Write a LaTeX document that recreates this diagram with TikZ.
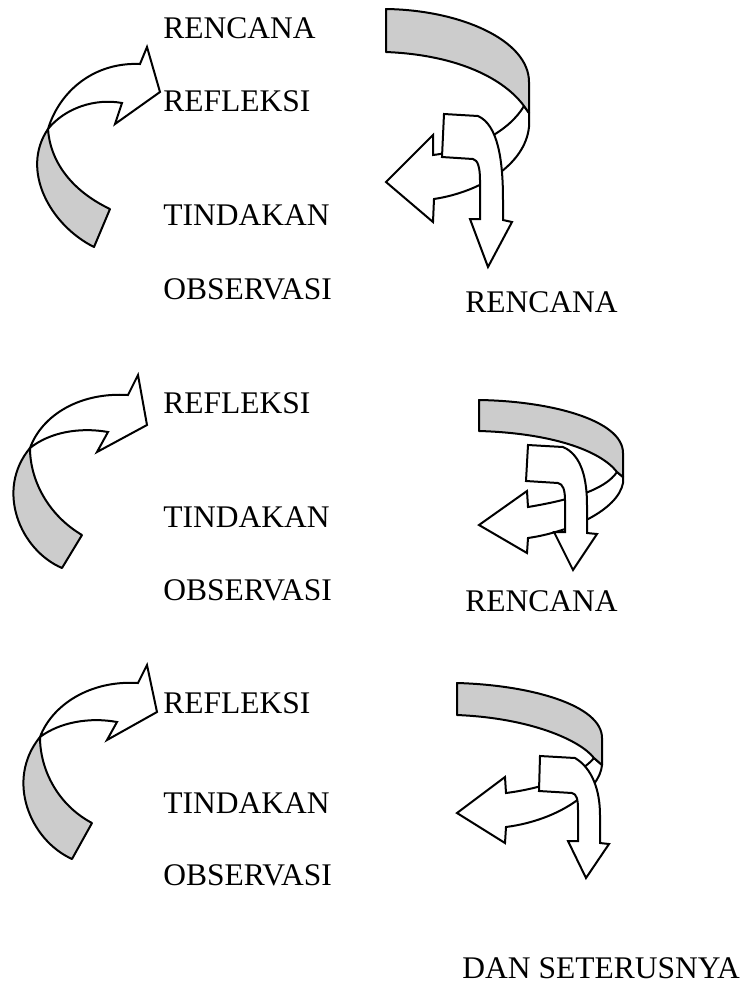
\documentclass[tikz,border=0pt]{standalone}
\usepackage{fontspec}
\setmainfont{Liberation Serif}
\tikzset{
  pita/.style={draw, line width=1pt, fill=gray!40, line join=round},
  panah/.style={draw, line width=1pt, fill=white, line join=miter},
  tahap/.style={anchor=base west, inner sep=0pt, font=\fontsize{15.75}{18}\selectfont}
}

\begin{document}
\begin{tikzpicture}[x=0.5pt, y=-0.5pt]
  \useasboundingbox (0,0) rectangle (752,993);

  \fill[pita] (94,247) .. controls (50,225) and (20,170) .. (48,129)
    .. controls (50,160) and (70,190) .. (110,209) -- cycle;
  \fill[panah] (48,129) .. controls (60,90) and (95,62) .. (140,64) -- (147,47) -- (160,92)
    -- (115,124) -- (122,103) .. controls (95,98) and (65,108) .. (48,129) -- cycle;

  \fill[panah] (524,106) -- (529,113) -- (529,127) .. controls (525,165) and (480,192) .. (434,199)
    -- (433,222) -- (386,182) -- (433,135) -- (433,155) .. controls (475,150) and (510,130) .. (524,106) -- cycle;
  \fill[pita] (386,9) .. controls (460,10) and (529,40) .. (529,82) -- (529,113) -- (524,106)
    .. controls (505,80) and (460,55) .. (386,52) -- cycle;
  \fill[panah] (444,114) -- (478,116) .. controls (498,125) and (503,160) .. (503,200) -- (503,220)
    -- (512,222) -- (488,267) -- (470,219) -- (480,219) -- (480,180)
    .. controls (480,168) and (478,160) .. (473,159) -- (442,157) -- cycle;

  \node[tahap] (ren1) at (163,38) {RENCANA};
  \node[tahap] (ref1) at (163,111) {REFLEKSI};
  \node[tahap] (tin1) at (163,225) {TINDAKAN};
  \node[tahap] (obs1) at (163,299) {OBSERVASI};
  \node[tahap] (ren2) at (465,312) {RENCANA};

  \fill[pita] (62,568) .. controls (20,550) and (-5,490) .. (30,448)
    .. controls (30,480) and (48,515) .. (82,535) -- cycle;
  \fill[panah] (30,448) .. controls (42,415) and (80,392) .. (128,395) -- (138,375) -- (147,425)
    -- (97,452) -- (108,432) .. controls (80,427) and (50,432) .. (30,448) -- cycle;

  \fill[panah] (617,472) -- (623,477) -- (623,483) .. controls (618,510) and (570,532) .. (528,538)
    -- (527,553) -- (479,525) -- (527,491) -- (528,507) .. controls (570,500) and (605,490) .. (617,472) -- cycle;
  \fill[pita] (479,400) .. controls (550,401) and (623,420) .. (623,453) -- (623,477) -- (617,472)
    .. controls (600,450) and (550,433) .. (479,431) -- cycle;
  \fill[panah] (528,445) -- (563,447) .. controls (582,455) and (587,480) .. (587,505) -- (587,533)
    -- (597,534) -- (573,570) -- (554,532) -- (565,532) -- (565,500)
    .. controls (565,490) and (563,484) .. (558,483) -- (526,481) -- cycle;

  \node[tahap] (ref2) at (163,413) {REFLEKSI};
  \node[tahap] (tin2) at (163,527) {TINDAKAN};
  \node[tahap] (obs2) at (163,600) {OBSERVASI};
  \node[tahap] (ren3) at (465,611) {RENCANA};

  \fill[pita] (72,859) .. controls (30,840) and (5,780) .. (40,737)
    .. controls (40,770) and (58,805) .. (92,823) -- cycle;
  \fill[panah] (40,737) .. controls (52,705) and (90,680) .. (138,683) -- (147,665) -- (157,712)
    -- (107,740) -- (117,722) .. controls (90,717) and (60,722) .. (40,737) -- cycle;

  \fill[panah] (594,758) -- (602,765) .. controls (600,790) and (560,820) .. (506,827)
    -- (505,843) -- (457,813) -- (505,777) -- (506,793) .. controls (545,788) and (580,775) .. (594,758) -- cycle;
  \fill[pita] (457,683) .. controls (530,685) and (602,705) .. (602,738) -- (602,765) -- (594,758)
    .. controls (580,740) and (530,718) .. (457,715) -- cycle;
  \fill[panah] (540,756) -- (575,758) .. controls (592,768) and (600,790) .. (600,815) -- (600,843)
    -- (609,844) -- (586,878) -- (568,841) -- (578,841) -- (578,810)
    .. controls (578,800) and (577,794) .. (572,793) -- (539,791) -- cycle;

  \node[tahap] (ref3) at (163,713) {REFLEKSI};
  \node[tahap] (tin3) at (163,813) {TINDAKAN};
  \node[tahap] (obs3) at (163,885) {OBSERVASI};
  \node[tahap] (lanjut) at (462,978) {DAN SETERUSNYA};
\end{tikzpicture}
\end{document}
